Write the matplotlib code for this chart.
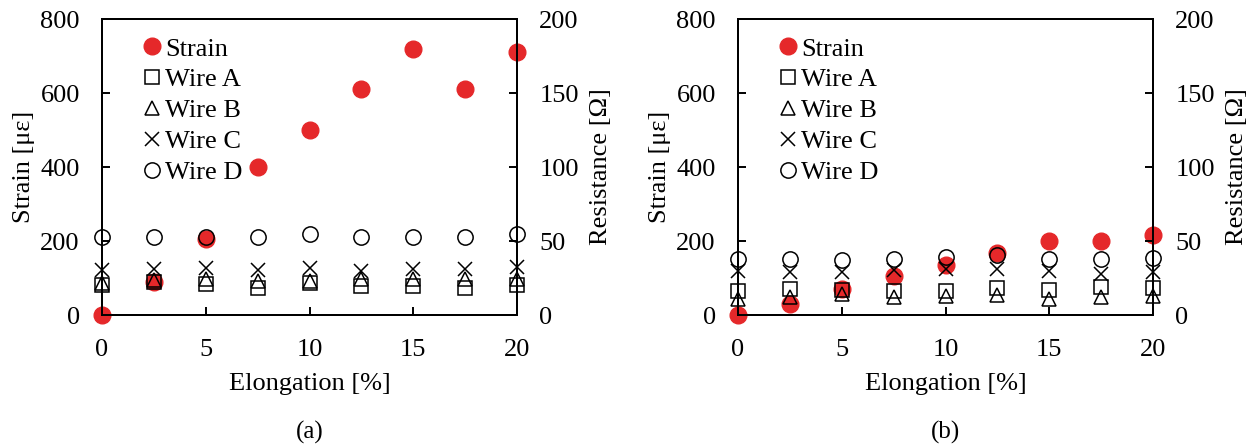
import numpy as np
import matplotlib.pyplot as plt

plt.rcParams['font.family'] = ['Liberation Serif', 'DejaVu Serif']

elong = [0, 2.5, 5, 7.5, 10, 12.5, 15, 17.5, 20]

# panel (a)
strain_a = [0, 90, 205, 400, 500, 610, 720, 610, 710]
wire_a_a = [20, 22.5, 21, 18, 21.5, 19.5, 19.5, 18, 20]
wire_b_a = [21.5, 23.5, 24, 23, 23, 24, 24, 24, 24.5]
wire_c_a = [30.5, 31, 31.5, 30.5, 31.5, 29.5, 31, 31, 32.5]
wire_d_a = [52.5, 52.5, 53, 53, 54.5, 52.5, 53, 53, 54.5]

# panel (b)
strain_b = [0, 30, 71, 105, 134, 168, 200, 200, 217]
wire_a_b = [16, 17.5, 17, 16.5, 16.5, 18, 17, 19, 18]
wire_b_b = [11, 12, 14, 12, 13, 13.5, 10.5, 12, 13]
wire_c_b = [29.5, 29, 29, 30.5, 31, 31, 30, 28, 29]
wire_d_b = [38, 38, 37, 38, 39, 40.5, 38, 38, 38.5]

RED = '#e5282a'
FS = 19


def draw_panel(fig, rect, strain, wa, wb, wc, wd, tag):
    ax = fig.add_axes(rect)
    ax2 = ax.twinx()
    h0, = ax.plot(elong, strain, 'o', color=RED, ms=12, clip_on=False, zorder=3, label='Strain')
    ax.set_xlim(0, 20)
    ax.set_ylim(0, 800)
    ax.set_xticks([0, 5, 10, 15, 20])
    ax.set_yticks([0, 200, 400, 600, 800])
    ax2.set_ylim(0, 200)
    ax2.set_yticks([0, 50, 100, 150, 200])

    kw = dict(ls='none', mfc='none', mec='black', mew=1.1, clip_on=False)
    h1, = ax2.plot(elong, wa, 's', ms=10.5, label='Wire A', **kw)
    h2, = ax2.plot(elong, wb, '^', ms=10, label='Wire B', **kw)
    h3, = ax2.plot(elong, wc, 'x', ms=10, label='Wire C', **kw)
    h4, = ax2.plot(elong, wd, 'o', ms=11, label='Wire D', **kw)

    for a in (ax, ax2):
        a.tick_params(direction='in', length=6, width=1.4, labelsize=FS, pad=16)
        for s in a.spines.values():
            s.set_linewidth(1.4)
    ax.tick_params(axis='x', pad=17)

    ax.set_xlabel('Elongation [%]', fontsize=FS, labelpad=9)
    ax.set_ylabel('Strain [με]', fontsize=FS, labelpad=4)
    ax2.set_ylabel('Resistance [Ω]', fontsize=FS, labelpad=8)

    ax2.legend([h0, h1, h2, h3, h4], ['Strain', 'Wire A', 'Wire B', 'Wire C', 'Wire D'],
               loc='upper left', bbox_to_anchor=(0.05, 1.01), frameon=False,
               fontsize=FS, handlelength=0.6, handletextpad=0.2, labelspacing=0.28,
               borderaxespad=0.4)
    cx = rect[0] + rect[2] / 2
    fig.text(cx, 1 - 432 / 446, tag, ha='center', va='center', fontsize=18)
    return ax, ax2


fig = plt.figure(figsize=(12.56, 4.46), dpi=100)
draw_panel(fig, [102 / 1256, 1 - 315 / 446, 415 / 1256, 296 / 446],
           strain_a, wire_a_a, wire_b_a, wire_c_a, wire_d_a, '(a)')
draw_panel(fig, [738 / 1256, 1 - 315 / 446, 415 / 1256, 296 / 446],
           strain_b, wire_a_b, wire_b_b, wire_c_b, wire_d_b, '(b)')
fig.savefig('out.png', dpi=100)
